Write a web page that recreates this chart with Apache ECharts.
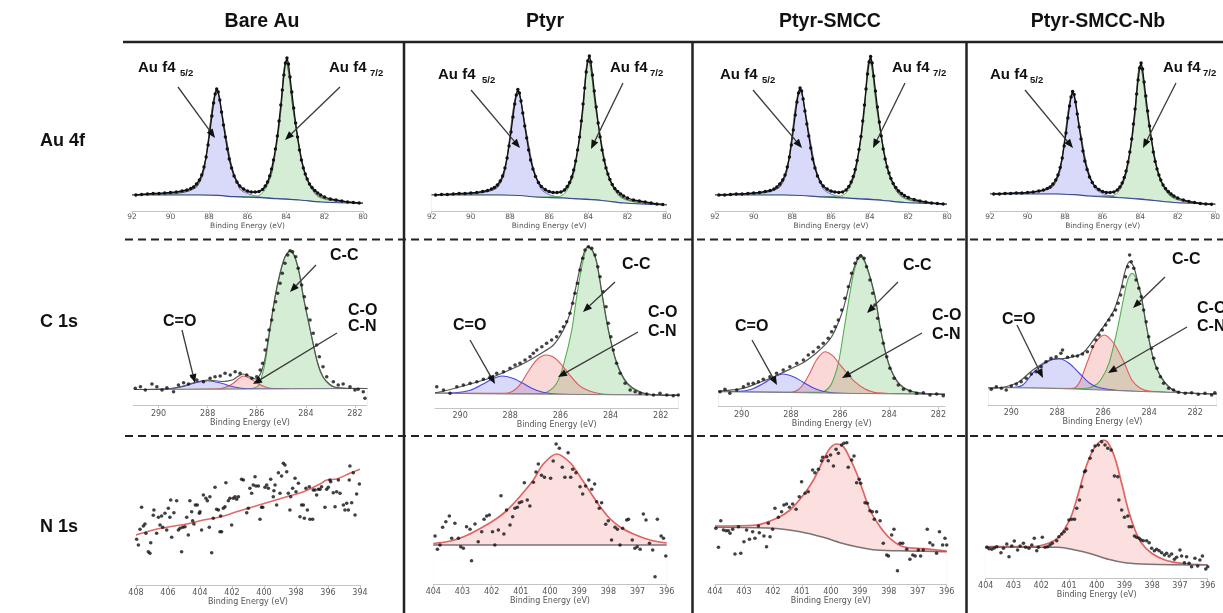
<!DOCTYPE html>
<html>
<head>
<meta charset="utf-8">
<title>XPS Au 4f / C 1s / N 1s</title>
<script src="https://cdn.jsdelivr.net/npm/echarts@6/dist/echarts.min.js"></script>
<style>
  html, body { margin: 0; padding: 0; background: #fff; }
  #chart { width: 1223px; height: 613px; }
</style>
</head>
<body>
<div id="chart"></div>
<script>
// headings
const columns = ['Bare Au', 'Ptyr', 'Ptyr-SMCC', 'Ptyr-SMCC-Nb'];
const rows = ['Au 4f', 'C 1s', 'N 1s'];

// tick labels
const auTicks = [92, 90, 88, 86, 84, 82, 80];
const cTicks = [290, 288, 286, 284, 282];
const nTicksBare = [408, 406, 404, 402, 400, 398, 396, 394];
const nTicks = [404, 403, 402, 401, 400, 399, 398, 397, 396];

// ---------- Au 4f row (intensity in px above the axis line) ----------
const au1Bg = [[92,16],[88.5,16],[87.5,15.6],[86.7,14.3],[85.3,13.3],[84.5,12.3],[83.3,11],[82.2,9],[80,7.7]];
const au1P52 = [[92,16.2],[90,17],[89.2,19],[88.8,22],[88.6,25],[88.3,37.7],[88.05,68],[87.85,100],[87.72,114],[87.6,121],[87.48,114],[87.35,100],[87.1,72],[86.8,43],[86.4,22],[86,17.5],[85.5,14.5],[85,13.2],[84,12],[82.2,9],[80,7.7]];
const au1P72 = [[92,16],[88.5,16],[86.7,14.3],[85.5,15],[85.2,18.5],[85,24.3],[84.75,37],[84.45,71],[84.25,104],[84.12,138],[84,149],[83.86,138],[83.65,104],[83.38,71],[83.03,37.7],[82.7,23],[82.3,14],[81.5,10],[80,7.7]];
const au1Env = [[92,16.5],[90,17.5],[89.2,19.5],[88.8,22.5],[88.6,25.5],[88.3,38.5],[88.05,69],[87.85,101],[87.72,115],[87.6,122],[87.48,115],[87.35,101],[87.1,72],[86.8,43],[86.4,24.5],[86,19],[85.6,18.5],[85.2,21],[85,26],[84.75,38.5],[84.45,72],[84.25,105],[84.12,139],[84,150],[83.86,139],[83.65,105],[83.38,72],[83.03,38.5],[82.7,24],[82.3,15],[81.5,10.5],[80,8]];

const au2Bg = [[92,16],[88.5,16],[87.5,15.5],[86.7,14],[85.3,13],[84.5,12],[83.3,10.5],[82.2,8],[80,6]];
const au2P52 = [[92,16.2],[90,17],[89.2,19],[88.8,21.5],[88.6,24.5],[88.3,37],[88.05,67],[87.85,99],[87.72,113],[87.6,120],[87.48,113],[87.35,99],[87.1,70],[86.8,41],[86.4,21.5],[86,16.5],[85.5,13.8],[85,12.8],[84,11.8],[82.2,8],[80,6]];
const au2P72 = [[92,16],[88.5,16],[86.7,14],[85.5,14.5],[85.2,18],[85,24],[84.75,37],[84.45,72],[84.25,106],[84.12,140],[84,151],[83.86,140],[83.65,106],[83.38,72],[83.03,37.5],[82.7,22],[82.3,13],[81.5,8.5],[80,6]];
const au2Env = [[92,16.5],[90,17.5],[89.2,19.5],[88.8,22],[88.6,25],[88.3,38],[88.05,68],[87.85,100],[87.72,114],[87.6,121],[87.48,114],[87.35,100],[87.1,71],[86.8,42],[86.4,23.5],[86,18.5],[85.6,18],[85.2,20.5],[85,25.5],[84.75,38.5],[84.45,73],[84.25,107],[84.12,141],[84,152],[83.86,141],[83.65,107],[83.38,73],[83.03,38.5],[82.7,23],[82.3,14],[81.5,9],[80,6.5]];

const au3Bg = [[92,16],[88.5,16],[87.5,15.5],[86.7,14.3],[85.3,13],[84.5,12],[83.3,10.5],[82.2,8.5],[80,6.7]];
const au3P52 = [[92,16.2],[90,17],[89.2,19],[88.8,22],[88.6,25],[88.3,38],[88.05,69],[87.85,101],[87.72,115],[87.6,122],[87.48,115],[87.35,101],[87.1,72],[86.8,42],[86.4,22],[86,17],[85.5,14],[85,13],[84,12],[82.2,8.5],[80,6.7]];
const au3P72 = [[92,16],[88.5,16],[86.7,14.3],[85.5,15],[85.2,18.5],[85,24.5],[84.75,37.5],[84.45,72],[84.25,105],[84.12,140],[84,151],[83.86,140],[83.65,105],[83.38,72],[83.03,38],[82.7,22.5],[82.3,13.5],[81.5,9],[80,6.7]];
const au3Env = [[92,16.5],[90,17.5],[89.2,19.5],[88.8,22.5],[88.6,25.5],[88.3,39],[88.05,70],[87.85,102],[87.72,116],[87.6,123],[87.48,116],[87.35,102],[87.1,73],[86.8,43],[86.4,24],[86,19],[85.6,18.5],[85.2,21],[85,26],[84.75,39],[84.45,73],[84.25,106],[84.12,141],[84,152],[83.86,141],[83.65,106],[83.38,73],[83.03,39],[82.7,23.5],[82.3,14.5],[81.5,9.5],[80,7]];

const au4Bg = [[92,17],[88.5,17],[87.5,16.3],[86.7,15],[85.3,13.5],[84.5,12.5],[83.3,10.5],[82.2,8.5],[80,6.7]];
const au4P52 = [[92,17.2],[90,18],[89.2,20],[88.8,22.5],[88.6,25.5],[88.3,37.5],[88.05,67],[87.85,97],[87.72,111],[87.6,118],[87.48,111],[87.35,97],[87.1,69],[86.8,41],[86.4,22.5],[86,17.5],[85.5,14.5],[85,13.3],[84,12.2],[82.2,8.5],[80,6.7]];
const au4P72 = [[92,17],[88.5,17],[86.7,15],[85.5,15.3],[85.2,18.5],[85,24],[84.75,36.5],[84.45,69],[84.25,101],[84.12,134],[84,145],[83.86,134],[83.65,101],[83.38,69],[83.03,36.5],[82.7,22],[82.3,13.5],[81.5,9],[80,6.7]];
const au4Env = [[92,17.5],[90,18.5],[89.2,20.5],[88.8,23],[88.6,26],[88.3,38.5],[88.05,68],[87.85,98],[87.72,112],[87.6,119],[87.48,112],[87.35,98],[87.1,70],[86.8,42],[86.4,24],[86,19],[85.6,18.5],[85.2,20.5],[85,25],[84.75,37.5],[84.45,70],[84.25,102],[84.12,135],[84,146],[83.86,135],[83.65,102],[83.38,70],[83.03,37.5],[82.7,23],[82.3,14.5],[81.5,9.5],[80,7]];

// measured Au 4f points: shared energies, one intensity list per sample
const auDotX = [91.8,91.5,91.2,90.9,90.6,90.3,90.0,89.7,89.4,89.15,88.95,88.8,88.65,88.5,88.38,88.26,88.15,88.05,87.95,87.85,87.76,87.68,87.6,87.52,87.44,87.35,87.25,87.15,87.05,86.95,86.83,86.7,86.55,86.4,86.2,86.0,85.8,85.6,85.4,85.22,85.08,84.96,84.85,84.75,84.65,84.55,84.45,84.36,84.27,84.19,84.11,84.03,83.95,83.87,83.79,83.7,83.6,83.5,83.4,83.3,83.2,83.1,83.0,82.9,82.78,82.65,82.5,82.35,82.2,82.0,81.7,81.4,81.1,80.8,80.5,80.2];
const au1DotY = [16,16.5,17,17.5,17.5,18,18.5,19,20,21,22.5,24,27,31,36,44,54,66,80,95,108,117,122,119,111,99,86,74,62,52,43,35,29,25,22,20,19,19,19.5,21.5,25,29,35,42,51,62,75,90,106,121,136,148,153,147,134,119,103,88,74,61,51,43,37,32,27,23.5,20.5,18,16,14,12,11,10,9,8.5,8];
const au2DotY = [16,16.5,16.5,17,17.5,17.5,18,18.5,19.5,20.5,22,23.5,26,30,35,43,53,65,79,94,107,116,121.5,118,110,98,85,73,61,51,42,34.5,28.5,24.5,21.5,19.5,18.5,18.5,19,21,24.5,28.5,34,41,50,61,74,90,107,123,139,150,155,149,136,120,104,88,74,61,51,43,37,31.5,26.5,22.5,19.5,17,15,13,11,10,9,8,7,6.5];
const au3DotY = [16,16,16.5,17,17,17.5,18,18.5,19.5,20.5,22,24,27,31,36,44,54,66,81,96,109,118,123,120,112,100,87,75,63,52,43,35,29,25,22,20,19,18.5,19,21,24.5,29,34.5,41.5,50.5,61.5,74.5,90,106,122,137,149,154.5,148,135,120,104,89,75,62,52,44,38,32.5,27.5,23.5,20,17.5,15.5,13.5,11.5,10,9,8,7.5,7];
const au4DotY = [17,17,17.5,17.5,18,18,18.5,19,20,21,22.5,24,27,31,36,43.5,53,65,78,93,105,114,119.5,116.5,109,97,84,72,60,50,41.5,34,28.5,24.5,21.5,19.5,18.5,18.5,19,21,24,28,33.5,40,49,59,72,87,102,117,131,143,148,142,129,115,100,85,72,59,49.5,42,36,31,26,22.5,19.5,17,15,13,11,9.5,8.5,7.5,7,6.7];

// ---------- C 1s row ----------
const c1Bg = [[291,15.5],[286,16],[281.5,16.5]];
const c1CO = [[291,15.5],[289.6,16],[289,18.5],[288.6,21.5],[288,24.3],[287.4,21.5],[287,18.5],[286.4,16.2],[285,16],[281.5,16.5]];
const c1CN = [[291,15.5],[287.6,16],[287.3,17.5],[287,21],[286.8,25],[286.55,29],[286.3,27],[286.05,23],[285.8,19.5],[285.5,17],[285.2,16.2],[281.5,16.5]];
const c1CC = [[291,15.5],[286.4,16],[286.1,17],[285.93,19.5],[285.8,28],[285.66,42],[285.46,75],[285.25,108],[285.05,131],[284.85,148],[284.64,154],[284.45,148],[284.26,131],[284.1,108],[283.82,75],[283.52,42],[283.3,28],[283.05,21],[282.85,18],[282.5,16.8],[281.5,16.5]];
const c1Env = [[291,15.5],[289.6,16.2],[289,19],[288.6,22],[288,25],[287.4,23.5],[287,25],[286.8,28],[286.55,31],[286.3,28.5],[286.05,26],[285.93,28],[285.8,34],[285.66,47],[285.46,77],[285.25,109],[285.05,132],[284.85,148],[284.64,154],[284.45,148],[284.26,131],[284.1,108],[283.82,75],[283.52,42],[283.3,28],[283.05,21],[282.85,18],[282.5,16.8],[281.5,16.5]];
const c1Dots = [[290.95,16.7],[290.74,18.3],[290.54,15],[290.27,21],[290.07,18.3],[289.86,15],[289.66,17.3],[289.39,13.3],[289.19,20],[288.98,22.3],[288.78,21],[288.64,28.3],[288.44,25],[288.17,23.3],[287.9,26.7],[287.7,28.3],[287.49,29],[287.29,31.7],[287.08,30],[286.88,33.3],[286.68,31.7],[286.41,30],[286.2,26.7],[286,28.3],[285.86,35],[285.76,41.7],[285.66,55],[285.59,65],[285.5,75],[285.39,85],[285.32,95],[285.23,103.3],[285.15,111.7],[285.05,121.7],[284.96,131.7],[284.85,141.7],[284.74,150],[284.64,154.3],[284.54,153.3],[284.41,148.3],[284.31,136.7],[284.17,120],[284.06,108.3],[283.97,96.7],[283.83,85],[283.7,71.7],[283.56,60],[283.45,48.3],[283.3,38.3],[283.15,28.3],[282.88,23.3],[282.68,20],[282.48,21],[282.2,18.3],[282,15],[281.87,15.7],[281.66,13.3],[281.59,6.7]];

const c2Bg = [[291,15],[286,14],[281.3,13]];
const c2CO = [[291,15],[290.2,15.5],[289.6,18],[289.1,24],[288.7,29.5],[288.34,32.3],[287.9,30],[287.5,25],[287.1,19.5],[286.7,16],[286,14],[281.3,13]];
const c2CN = [[291,15],[288.2,15],[287.9,17],[287.6,24],[287.3,36],[287,47],[286.75,52],[286.55,53.3],[286.3,51.5],[286,45],[285.62,33],[285.3,24],[285,19],[284.6,15.5],[284.2,14],[281.3,13]];
const c2CC = [[291,15],[287,14.5],[286.55,16],[286.15,25],[285.86,45],[285.55,78],[285.35,112],[285.12,145],[284.9,161],[284.72,157],[284.55,145],[284.33,112],[284.09,78],[283.76,45],[283.36,25],[282.83,16],[282.3,13.5],[281.3,13]];
const c2Env = [[291,15.5],[290.93,15.6],[289.73,23.3],[288.67,31.6],[287.87,40],[287.34,46.6],[286.81,54.3],[286.28,63.3],[285.88,78.3],[285.62,95],[285.35,125],[285.11,151.6],[284.9,162],[284.72,158],[284.55,146],[284.33,113],[284.09,79],[283.76,46],[283.36,26],[282.83,16.5],[282.3,13.5],[281.3,13]];
const c2Dots = [[290.93,21.6],[290.66,18.3],[290.4,15],[290.13,21.6],[289.87,23.3],[289.6,25],[289.33,26.6],[289.07,29],[288.8,31.6],[288.54,35],[288.27,36.6],[288.01,40],[287.81,43.3],[287.61,45],[287.41,48.3],[287.21,51.6],[287.08,55],[286.94,58.3],[286.74,61.6],[286.55,65],[286.35,68.3],[286.15,71.6],[286.01,76.6],[285.88,81.6],[285.75,86.6],[285.62,95],[285.51,105],[285.42,115],[285.32,125],[285.22,138.3],[285.11,150],[285.02,158.3],[284.88,161.6],[284.75,160],[284.62,153.3],[284.51,141.6],[284.42,131.6],[284.29,116.6],[284.18,101.6],[284.09,85],[283.99,71.6],[283.89,58.3],[283.76,45],[283.62,35],[283.42,25],[283.22,18.3],[283.02,16.6],[282.82,15],[282.56,14.3],[282.29,13.3],[282.03,15],[281.76,13.3],[281.5,12.6],[281.3,13.3]];

const c3Bg = [[290.95,15],[286,13.5],[281.73,12.3]];
const c3CO = [[290.95,15],[290.1,15.3],[289.6,17.5],[289.1,23.5],[288.7,29.5],[288.31,32.7],[287.9,30],[287.5,24.5],[287.1,19],[286.7,15.5],[286,13.5],[281.73,12.3]];
const c3CN = [[290.95,15],[288,14.5],[287.7,17],[287.45,24],[287.22,34],[286.95,47],[286.61,55],[286.3,51],[286,42],[285.73,34],[285.4,25],[285,18],[284.5,14],[281.73,12.3]];
const c3CC = [[290.95,15],[287,14.3],[286.6,16],[286.34,23.3],[286.07,43.3],[285.84,76.7],[285.62,110],[285.4,138],[285.16,150],[284.92,140],[284.58,110],[284.35,76.7],[284.03,43.3],[283.63,23.3],[283.15,15.5],[282.5,13],[281.73,12.3]];
const c3Env = [[290.95,15.5],[290,18],[289.3,24],[288.6,31],[288,38],[287.5,44],[287,53],[286.6,62],[286.34,70],[286.07,84],[285.84,100],[285.62,122],[285.4,141],[285.16,152],[284.92,141],[284.58,111],[284.35,77.5],[284.03,44],[283.63,24],[283.15,16],[282.5,13],[281.73,12.3]];
const c3Dots = [[290.88,15],[290.68,17.4],[290.48,13.4],[290.2,16.7],[289.93,20],[289.73,22.7],[289.53,23.4],[289.32,25],[289.12,27.4],[288.85,30],[288.58,33.4],[288.31,36.7],[288.04,40],[287.76,43.4],[287.49,46.7],[287.29,51.7],[287.09,55],[286.88,59.4],[286.68,63.4],[286.48,68.4],[286.34,75],[286.2,80],[286.07,86.7],[285.93,96.7],[285.8,108.4],[285.66,120],[285.53,133.4],[285.39,143.4],[285.28,148.4],[285.16,150.7],[285.02,148.4],[284.92,140],[284.78,126.7],[284.67,113.4],[284.58,101.7],[284.47,88.4],[284.35,76.7],[284.24,63.4],[284.1,50],[283.97,38.4],[283.8,28.4],[283.63,21.7],[283.42,17.4],[283.15,15.7],[282.88,13.4],[282.61,14],[282.34,11.7],[282.07,12.7],[281.8,11]];

const c4Bg = [[291,17.5],[288,16.5],[285,14],[281.06,11]];
const c4CO = [[291,17.5],[290,17.5],[289.5,20],[289.06,32],[288.6,41],[287.98,46.7],[287.5,42],[287.05,32],[286.6,22],[286.2,17.5],[285,14],[281.06,11]];
const c4CN = [[291,17.5],[287.4,16.5],[287.2,17.5],[287,24],[286.69,43],[286.35,62],[285.96,70],[285.55,62],[285.1,43],[284.75,25],[284.4,17],[284,14],[281.06,11]];
const c4CC = [[291,17.5],[286.8,16.5],[286.4,19],[286.11,25],[285.75,41.7],[285.39,75],[285.1,108],[284.92,126],[284.74,131.7],[284.55,126],[284.34,108],[284.09,75],[283.76,41.7],[283.3,22],[282.72,13],[281.06,11]];
const c4Env = [[291,17],[290.87,16.7],[289.78,21.7],[289.06,35],[288.34,45],[287.62,46.7],[286.9,51.7],[286.32,68.3],[285.89,81.7],[285.53,95],[285.24,115],[285.03,135],[284.85,143.3],[284.67,138.3],[284.45,118.3],[284.34,109],[284.09,75.5],[283.76,42],[283.3,22],[282.72,13],[281.06,11]];
const c4Dots = [[290.87,15.7],[290.65,18.3],[290.43,16.7],[290.22,15],[290,19],[289.78,21],[289.57,23.3],[289.35,26.7],[289.13,31],[288.92,33.3],[288.7,38.3],[288.49,43.3],[288.27,46.7],[288.05,48.3],[287.84,51.7],[287.77,55],[287.55,47.7],[287.33,49],[287.12,49],[286.9,51],[286.69,53.3],[286.47,58.3],[286.32,65],[286.18,70],[286.04,75],[285.89,80],[285.75,85],[285.6,90],[285.46,95],[285.35,101.7],[285.24,110],[285.14,118.3],[285.03,128.3],[284.93,138.3],[284.85,150],[284.78,143.3],[284.67,136.7],[284.57,125],[284.45,116.7],[284.34,108.3],[284.24,95],[284.13,83.3],[284.02,68.3],[283.9,56.7],[283.8,46.7],[283.66,36.7],[283.51,28.3],[283.37,21.7],[283.15,16.7],[282.94,15],[282.72,12.7],[282.43,11.7],[282.15,12.3],[281.86,10.7],[281.57,11.7],[281.28,10],[281.14,12.3]];

// ---------- N 1s row ----------
const n1Fit = [[408,50],[406.92,55],[405.88,58.3],[404.83,61],[403.79,65],[402.75,68],[401.71,73.3],[400.67,78.3],[399.63,83.3],[398.58,88.3],[397.54,93.3],[396.5,101],[396.08,105],[395.46,106],[394.63,111.7],[394,115.7]];
const n1Dots = [[407.96,45.7],[407.85,40],[407.75,55.7],[407.65,77.7],[407.54,59],[407.44,61],[407.38,51.7],[407.23,33.3],[407.13,31.7],[407.08,42.3],[406.92,69.7],[406.88,75],[406.71,51.7],[406.6,67.7],[406.5,60],[406.4,69],[406.33,57.7],[406.19,71.7],[406.08,55],[405.98,76.7],[405.88,67.7],[405.83,85],[405.77,47.7],[405.63,72.3],[405.46,84.3],[405.35,55],[405.25,56.7],[405.15,33.3],[405.08,57.7],[404.94,58.3],[404.83,67.7],[404.73,50],[404.63,84.3],[404.52,73.3],[404.46,64.3],[404.38,61],[404.29,80],[404.17,80],[404.04,71.7],[404,73.3],[403.9,55],[403.79,90],[403.63,86.7],[403.54,84.3],[403.42,57.7],[403.38,88.3],[403.27,32.3],[403.17,66.7],[403.06,97.7],[402.96,75.7],[402.85,75],[402.75,53.3],[402.71,69],[402.65,53.3],[402.54,76.7],[402.44,78.3],[402.38,102.3],[402.23,84.3],[402.13,86.7],[402.02,60],[401.92,86.7],[401.81,88.3],[401.71,85.7],[401.6,88.3],[401.4,105.7],[401.29,105],[401.08,72.3],[400.98,76.7],[400.88,96.7],[400.77,91.7],[400.67,100],[400.56,108.3],[400.5,99],[400.35,99],[400.25,65.7],[400.15,77.7],[400.08,77.7],[399.94,97.7],[399.83,100],[399.73,96.7],[399.58,105.7],[399.42,88.3],[399.38,94.3],[399.31,100],[399.21,80],[399.1,112.3],[399,91.7],[398.9,109],[398.79,121.7],[398.69,120],[398.58,113.3],[398.48,91.7],[398.38,75],[398.33,88.3],[398.21,96.7],[398.06,106.7],[398,93.3],[397.85,101.7],[397.75,68.3],[397.65,80],[397.54,80],[397.48,66.7],[397.38,96.7],[397.29,75],[397.17,98.3],[397.13,65.7],[396.96,65.7],[396.92,95],[396.81,95],[396.71,90],[396.6,95.7],[396.5,95.7],[396.4,98.3],[396.19,77.7],[396.08,95.7],[395.98,97.7],[395.88,105],[395.83,103.3],[395.67,92.3],[395.56,78.3],[395.46,93.3],[395.35,105],[395.25,91.7],[395.04,80],[394.94,75],[394.83,81.7],[394.73,75],[394.67,105],[394.63,119],[394.52,82.3],[394.42,112.3],[394.31,70],[394.21,91],[394.04,101]];

const n2Bg = [[404,39],[400,39],[396,39]];
const n2Fit = [[404,40.5],[403.4,43],[402.9,48],[402.3,57],[401.8,66],[401.5,73],[401.2,82],[400.9,92],[400.57,104],[400.23,120],[399.77,130],[399.3,121],[398.96,107],[398.6,91],[398.3,78],[398,67],[397.6,57],[397.14,50],[396.57,44],[396,41]];
const n2Dots = [[403.94,48],[403.86,34.7],[403.77,39],[403.68,56.7],[403.57,62.3],[403.45,68],[403.37,45.7],[403.26,60.7],[403.14,45.7],[403.06,37.3],[402.97,35.7],[402.86,57.3],[402.74,54.7],[402.69,23.3],[402.57,60],[402.46,42.3],[402.34,52.3],[402.26,64.7],[402.17,68],[402.08,69],[401.97,52.3],[401.89,39],[401.77,54],[401.68,88.3],[401.58,50],[401.49,74],[401.37,59],[401.28,67.3],[401.2,75.7],[401.12,76.7],[401.05,81.3],[400.97,82.3],[400.88,101.3],[400.78,84],[400.69,78],[400.57,101.7],[400.48,112],[400.4,120],[400.29,108.7],[400.19,106.7],[399.98,105.7],[399.89,123],[399.79,140],[399.68,135.7],[399.58,116.7],[399.49,106.7],[399.38,131.3],[399.29,106.7],[399.22,114.7],[399.11,111.3],[398.97,97.3],[398.88,90],[398.78,98],[398.67,104],[398.57,94.7],[398.47,100],[398.4,82.3],[398.31,75.7],[398.23,81.3],[398.09,59.7],[398,63.3],[397.89,44],[397.77,56.7],[397.69,54.7],[397.6,39],[397.51,55.7],[397.37,64],[397.31,64.7],[397.18,44],[397.09,35.7],[397.01,37.3],[396.91,34.7],[396.8,70],[396.71,64],[396.59,40.7],[396.48,34],[396.4,7.3],[396.32,64.7],[396.19,48],[396.11,45.7],[396.03,28]];

const n3Bg = [[404,56.7],[402,55.7],[401.06,52.3],[400.26,46.7],[399.68,41.3],[399.11,37.3],[398.42,34],[397.38,33],[396,32.3]];
const n3Fit = [[404,58],[402.56,59],[401.87,65.7],[401.41,74],[400.95,89],[400.6,104],[400.26,124],[400.03,135.7],[399.8,140],[399.57,137.3],[399.34,125.7],[399.11,110.7],[398.88,92.3],[398.65,74],[398.3,57.3],[397.96,45.7],[397.5,37.3],[396.81,35.3],[396,33]];
const n3Dots = [[403.97,55.7],[403.88,36.7],[403.8,63.3],[403.71,54],[403.62,53.3],[403.54,53.3],[403.48,50.7],[403.39,54.7],[403.31,30],[403.19,57.3],[403.11,30.7],[403,42.3],[402.91,54],[402.81,44.7],[402.7,52.3],[402.62,45.7],[402.5,58],[402.47,51.3],[402.31,48],[402.22,37.3],[402.16,60.7],[402.1,47.3],[402.01,54.7],[401.93,75.7],[401.81,66.7],[401.7,72.3],[401.62,79],[401.53,80],[401.43,76.7],[401.32,80],[401.2,74.7],[401.09,87.3],[401.01,102.3],[400.89,90.7],[400.78,92.3],[400.63,114],[400.55,111.3],[400.43,114.7],[400.32,123.3],[400.28,126.7],[400.14,127.3],[400.09,123.3],[400.01,129],[399.91,118],[399.82,134.7],[399.74,130.7],[399.63,139],[399.55,140.7],[399.45,141.3],[399.4,116.7],[399.28,124],[399.2,128],[399.11,101.3],[399.02,104.7],[398.97,100.7],[398.82,81.3],[398.74,80.7],[398.65,73.3],[398.57,72.3],[398.5,64.7],[398.42,72.3],[398.3,63.3],[398.19,40.7],[398.07,29],[398.01,28],[397.9,49],[397.82,54.7],[397.7,13.3],[397.61,40.7],[397.52,40.7],[397.38,34.7],[397.27,24.7],[397.17,29],[397.09,28],[396.98,34],[396.9,28],[396.81,34],[396.67,54.7],[396.58,41.3],[396.48,39],[396.35,30.7],[396.25,52.3],[396.14,39],[396.06,45.7],[396,39]];

const n4Bg = [[404,31],[401.38,31],[400.78,28.3],[400.18,24.3],[399.58,19],[398.98,15.6],[398.14,14],[396,13.3]];
const n4Fit = [[404,31.6],[402.34,31.6],[401.74,35],[401.38,41],[401.14,50],[400.9,63.3],[400.66,85],[400.42,108.3],[400.18,125.6],[399.94,135.6],[399.76,138.3],[399.58,135],[399.34,120],[399.1,95],[398.86,68.3],[398.62,48.3],[398.38,35],[398.02,25],[397.54,18.3],[396.94,15],[396,13.3]];
const n4Dots = [[403.96,31],[403.88,29.6],[403.78,29],[403.69,30.3],[403.6,31.6],[403.45,25.6],[403.36,30],[403.24,34.3],[403.16,21.6],[403.06,32.3],[402.97,37.3],[402.85,28.3],[402.76,32.3],[402.64,35],[402.56,31],[402.44,30],[402.34,33.3],[402.25,40],[402.16,27.6],[402.1,31],[401.96,41],[401.86,31],[401.77,31.6],[401.68,33.3],[401.6,35],[401.44,37.6],[401.36,41.6],[401.26,44.3],[401.17,46.6],[401.08,49.3],[401,58.3],[400.9,59],[400.8,59],[400.72,70],[400.62,78.3],[400.54,91.6],[400.44,106.6],[400.4,107.6],[400.24,120],[400.16,127.6],[400.06,132.3],[399.94,133.3],[399.82,136.6],[399.7,133.3],[399.6,130],[399.48,128.3],[399.36,102.3],[399.24,101.6],[399.2,78.3],[399.1,68.3],[399,61],[398.88,62.3],[398.83,51.6],[398.74,51.6],[398.64,42.3],[398.56,41],[398.47,40],[398.4,38.3],[398.32,37.6],[398.2,37.6],[398.11,35.6],[398.02,30],[397.92,27.6],[397.84,29],[397.75,27.6],[397.66,25.6],[397.56,23.3],[397.48,25],[397.39,22.3],[397.3,24.3],[397.2,19],[397.12,21],[397,28.3],[396.94,22.3],[396.84,15.6],[396.76,21.6],[396.67,15],[396.58,11.6],[396.46,20],[396.36,12.3],[396.28,18.3],[396.19,22.3],[396.07,9.3],[396,11.6]];

// ---------- layout ----------
// each panel: plot box in px (left/right of the energy axis, top, axis line y) and energy window
const panels = [
  {left: 132, right: 363, top: 45, axisY: 211, min: 80, max: 92, ticks: auTicks, margin: 2, nameGap: 9, fs: 7.5},
  {left: 431.7, right: 666.7, top: 45, axisY: 211, min: 80, max: 92, ticks: auTicks, margin: 2, nameGap: 9, fs: 7.5},
  {left: 715, right: 947, top: 45, axisY: 211, min: 80, max: 92, ticks: auTicks, margin: 2, nameGap: 9, fs: 7.5},
  {left: 990, right: 1218, top: 45, axisY: 211, min: 80, max: 92, ticks: auTicks, margin: 2, nameGap: 9, fs: 7.5},
  {left: 133.3, right: 366.7, top: 245, axisY: 405, min: 281.52, max: 291.03, ticks: cTicks, margin: 5, nameGap: 13.5, fs: 8},
  {left: 435, right: 678.3, top: 245, axisY: 408.3, min: 281.3, max: 291.0, ticks: cTicks, margin: 4, nameGap: 12.5, fs: 8},
  {left: 718.3, right: 945, top: 245, axisY: 406.7, min: 281.73, max: 290.95, ticks: cTicks, margin: 4, nameGap: 12.5, fs: 8},
  {left: 988.3, right: 1216.7, top: 245, axisY: 405, min: 281.06, max: 291.0, ticks: cTicks, margin: 4, nameGap: 13, fs: 8},
  {left: 136, right: 360, top: 440, axisY: 585, min: 394, max: 408, ticks: nTicksBare, margin: 4, nameGap: 13, fs: 8},
  {left: 433.3, right: 666.7, top: 440, axisY: 584, min: 396, max: 404, ticks: nTicks, margin: 4, nameGap: 13, fs: 8},
  {left: 715, right: 946.7, top: 440, axisY: 584, min: 396, max: 404, ticks: nTicks, margin: 4, nameGap: 12.5, fs: 8},
  {left: 985.7, right: 1207.7, top: 440, axisY: 578.3, min: 396, max: 404, ticks: nTicks, margin: 4, nameGap: 12.5, fs: 8}
];

const tickFont = '"DejaVu Sans", sans-serif';
const boldFont = '"Liberation Sans", Arial, sans-serif';

const grids = [], xAxes = [], yAxes = [];
panels.forEach((p, i) => {
  grids.push({left: p.left, top: p.top, width: p.right - p.left, height: p.axisY - p.top});
  xAxes.push({
    gridIndex: i, type: 'value', min: p.min, max: p.max, inverse: true, z: 10,
    name: 'Binding Energy (eV)', nameLocation: 'middle', nameGap: p.nameGap,
    nameTextStyle: {fontSize: p.fs, color: '#555', fontFamily: tickFont},
    axisLine: {lineStyle: {color: '#c4c4c4', width: 1}},
    axisTick: {length: 3, lineStyle: {color: '#c4c4c4'}, customValues: p.ticks},
    axisLabel: {fontSize: p.fs, color: '#555', fontFamily: tickFont, margin: p.margin, customValues: p.ticks},
    splitLine: {show: false}
  });
  yAxes.push({gridIndex: i, type: 'value', min: 0, max: p.axisY - p.top, show: false});
});

const series = [];
function curve(i, data, color, width, fill, z) {
  const s = {
    type: 'line', xAxisIndex: i, yAxisIndex: i, data: data, smooth: 0.3, showSymbol: false,
    silent: true, z: z, lineStyle: {color: color, width: width}
  };
  if (fill) s.areaStyle = {color: fill, opacity: 1};
  series.push(s);
}
function dots(i, data) {
  series.push({type: 'scatter', xAxisIndex: i, yAxisIndex: i, data: data, symbolSize: 3.6,
    itemStyle: {color: '#111'}, silent: true, z: 6});
}

const blueFill = 'rgba(115,115,235,0.27)', greenFill = 'rgba(100,190,100,0.27)', redFill = 'rgba(235,100,100,0.25)';

// Au 4f panels
[[au1Bg, au1P52, au1P72, au1Env, au1DotY], [au2Bg, au2P52, au2P72, au2Env, au2DotY],
 [au3Bg, au3P52, au3P72, au3Env, au3DotY], [au4Bg, au4P52, au4P72, au4Env, au4DotY]].forEach((d, i) => {
  curve(i, d[1], '#7070d8', 1, blueFill, 2);
  curve(i, d[2], '#5cb05c', 1, greenFill, 2);
  curve(i, d[0], '#3a4a8c', 1.2, '#ffffff', 3);
  curve(i, d[3], '#666', 1.2, null, 4);
  series.push({type: 'line', xAxisIndex: i, yAxisIndex: i, data: auDotX.map((x, k) => [x, d[4][k]]),
    showSymbol: true, symbol: 'circle', symbolSize: 3.4, itemStyle: {color: '#111'},
    lineStyle: {color: '#111', width: 1.3}, silent: true, z: 6});
});

// C 1s panels
[[c1Bg, c1CO, c1CN, c1CC, c1Env, c1Dots], [c2Bg, c2CO, c2CN, c2CC, c2Env, c2Dots],
 [c3Bg, c3CO, c3CN, c3CC, c3Env, c3Dots], [c4Bg, c4CO, c4CN, c4CC, c4Env, c4Dots]].forEach((d, k) => {
  const i = 4 + k;
  curve(i, d[3], '#50b050', 1.1, greenFill, 2);
  curve(i, d[2], '#e05a5a', 1.1, redFill, 2);
  curve(i, d[1], '#4848e0', 1.1, blueFill, 2);
  curve(i, d[0], '#808080', 1.1, '#ffffff', 3);
  curve(i, d[4], '#555', 1.2, null, 4);
  dots(i, d[5]);
});

// N 1s panels
curve(8, n1Fit, '#e06a6a', 1.6, null, 4);
dots(8, n1Dots);
[[n2Bg, n2Fit, n2Dots], [n3Bg, n3Fit, n3Dots], [n4Bg, n4Fit, n4Dots]].forEach((d, k) => {
  const i = 9 + k;
  curve(i, d[1], '#e06464', 1.7, 'rgba(245,140,140,0.28)', 2);
  curve(i, d[0], '#7d7272', 1.5, '#ffffff', 3);
  dots(i, d[2]);
});

// ---------- frame, headings, annotations ----------
const graphic = [];
function txt(s, x, y, size, align) {
  graphic.push({type: 'text', x: x, y: y, z: 100, silent: true,
    style: {text: s, font: 'bold ' + size + 'px ' + boldFont, fill: '#111',
      textAlign: align || 'left', textVerticalAlign: 'middle'}});
}
function seg(x1, y1, x2, y2, w, dash) {
  graphic.push({type: 'line', z: 90, silent: true, shape: {x1: x1, y1: y1, x2: x2, y2: y2},
    style: {stroke: '#222', lineWidth: w, lineDash: dash || null}});
}
function arrow(x1, y1, x2, y2) {
  const a = Math.atan2(y2 - y1, x2 - x1), L = 9, W = 3.6;
  const bx = x2 - L * Math.cos(a), by = y2 - L * Math.sin(a);
  const px = -Math.sin(a) * W, py = Math.cos(a) * W;
  graphic.push({type: 'line', z: 100, silent: true, shape: {x1: x1, y1: y1, x2: bx, y2: by},
    style: {stroke: '#3a3a3a', lineWidth: 1.3}});
  graphic.push({type: 'polygon', z: 100, silent: true,
    shape: {points: [[x2, y2], [bx + px, by + py], [bx - px, by - py]]}, style: {fill: '#111'}});
}

seg(123, 42, 1223, 42, 2.5);
[404, 692.5, 966.5].forEach(x => seg(x, 42, x, 613, 2.5));
seg(125, 239.5, 1223, 239.5, 2, [8, 5]);
seg(125, 436, 1223, 436, 2, [8, 5]);

[262, 545, 830, 1098].forEach((x, i) => txt(columns[i], x, 22, 19.5, 'center'));
[141, 322, 527].forEach((y, i) => txt(rows[i], 40, y, 18));

const auLabels = [[138, 68, '5/2', 180], [329, 68, '7/2', 370], [438, 75, '5/2', 482], [610, 68, '7/2', 650],
  [720, 75, '5/2', 762], [892, 68, '7/2', 933], [990, 75, '5/2', 1030], [1163, 68, '7/2', 1203]];
auLabels.forEach(l => { txt('Au f4', l[0], l[1], 15); txt(l[2], l[3], l[1] + 5, 9.5); });

const cLabels = [['C-C', 330, 256], ['C=O', 163, 322], ['C-O', 348, 311], ['C-N', 348, 327],
  ['C-C', 622, 265], ['C=O', 453, 326], ['C-O', 648, 313], ['C-N', 648, 332],
  ['C-C', 903, 266], ['C=O', 735, 327], ['C-O', 932, 316], ['C-N', 932, 335],
  ['C-C', 1172, 260], ['C=O', 1002, 320], ['C-O', 1197, 309], ['C-N', 1197, 327]];
cLabels.forEach(l => txt(l[0], l[1], l[2], 16));

const arrows = [[178, 87, 215, 138], [340, 87, 285, 140], [471, 90, 520, 148], [623, 83, 591, 149],
  [753, 90, 802, 148], [905, 83, 873, 148], [1025, 90, 1073, 148], [1176, 83, 1143, 148],
  [316, 265, 290, 292], [182, 330, 195, 383], [337, 333, 253, 384],
  [615, 282, 583, 312], [470, 340, 495, 384], [638, 332, 558, 377],
  [898, 282, 867, 313], [752, 340, 777, 385], [922, 333, 842, 378],
  [1165, 277, 1133, 308], [1017, 325, 1043, 378], [1187, 327, 1108, 373]];
arrows.forEach(a => arrow(a[0], a[1], a[2], a[3]));

const chart = echarts.init(document.getElementById('chart'));
chart.setOption({
  animation: false,
  backgroundColor: '#fff',
  grid: grids,
  xAxis: xAxes,
  yAxis: yAxes,
  series: series,
  graphic: graphic
});
</script>
</body>
</html>
